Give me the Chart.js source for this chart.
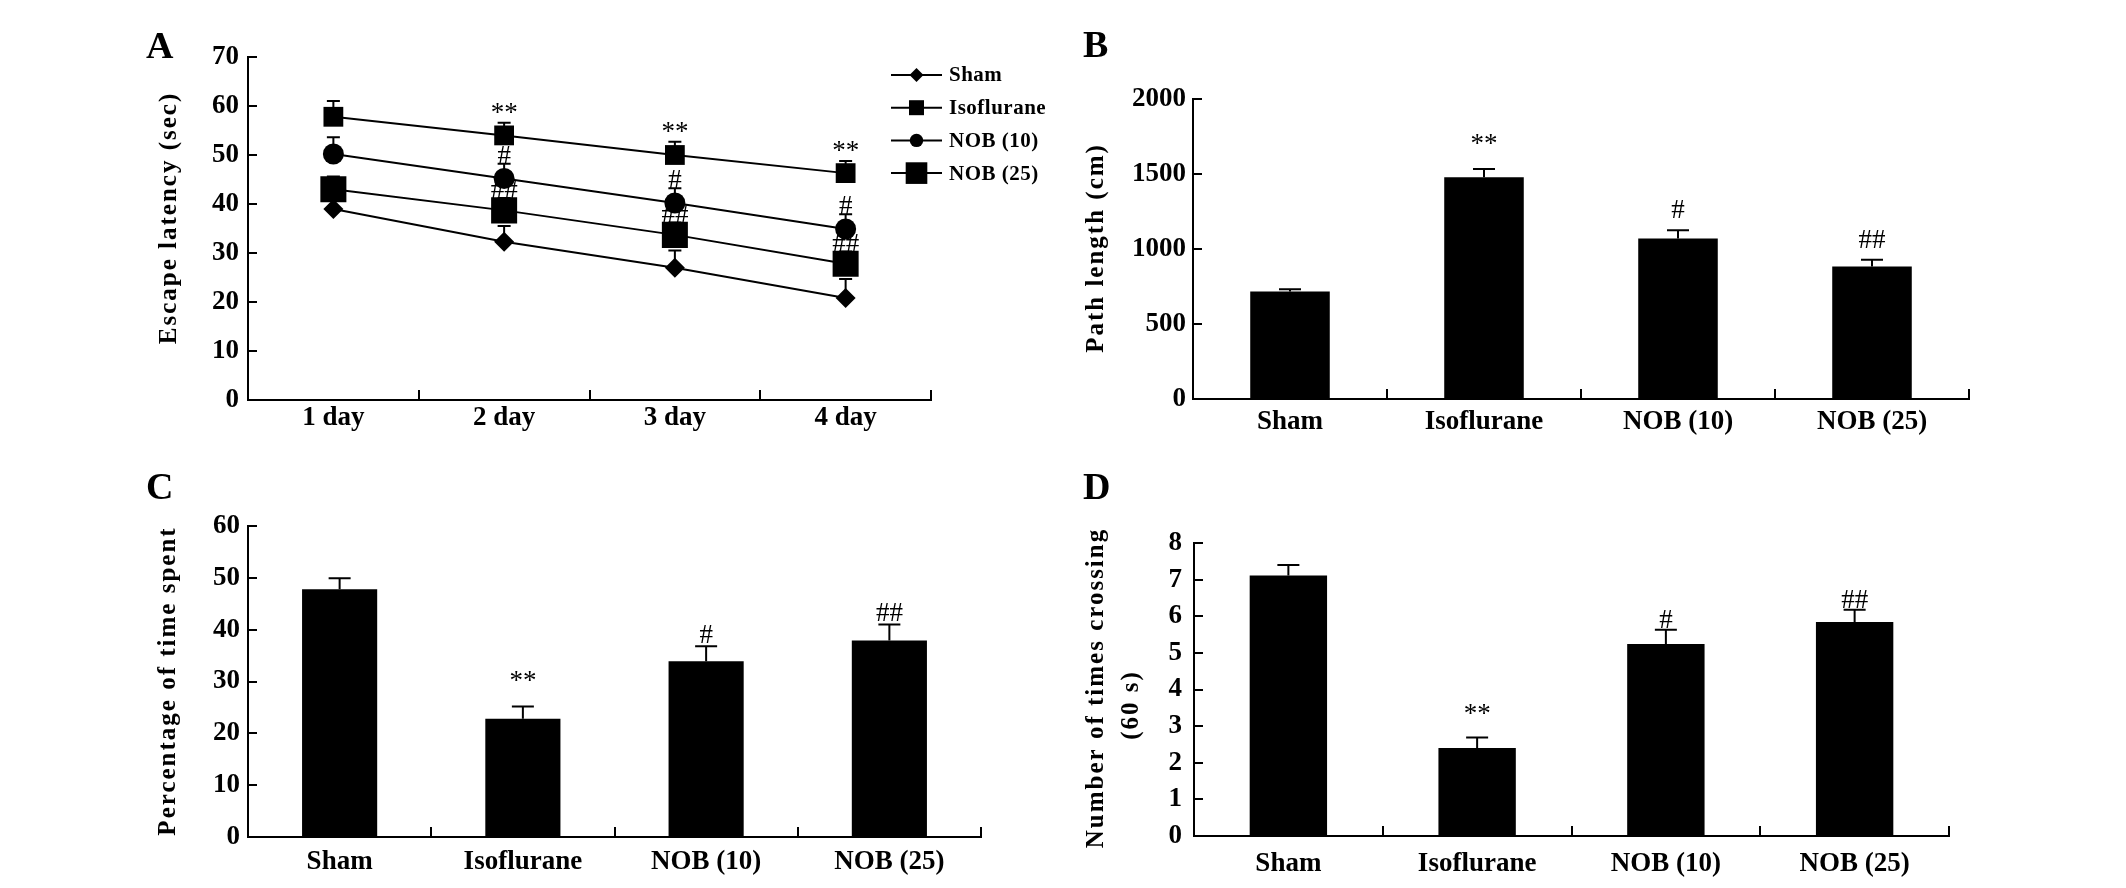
<!DOCTYPE html>
<html>
<head>
  <title>Escape latency, path length, time in quadrant and platform crossings</title>
  <style>
    body { margin: 0; background: #fff; }
    #wrap { position: relative; width: 2126px; height: 888px; }
    #wrap canvas { position: absolute; }
  </style>
</head>
<body>
  <div id="wrap">
    <canvas id="chartA" width="1063" height="444" style="left:0;top:0"></canvas>
    <canvas id="chartB" width="1063" height="444" style="left:1063px;top:0"></canvas>
    <canvas id="chartC" width="1063" height="444" style="left:0;top:444px"></canvas>
    <canvas id="chartD" width="1063" height="444" style="left:1063px;top:444px"></canvas>
  </div>

  <script src="https://cdn.jsdelivr.net/npm/chart.js"></script>
  <script>
    // categories
    const days = ['1 day', '2 day', '3 day', '4 day'];
    const groups = ['Sham', 'Isoflurane', 'NOB (10)', 'NOB (25)'];

    // A - escape latency (sec), mean and upper error
    const shamLatency = [39.0, 32.3, 27.0, 20.8];
    const shamLatencyErr = [3.0, 3.2, 3.5, 3.9];
    const isoLatency = [57.8, 54.0, 50.0, 46.3];
    const isoLatencyErr = [3.2, 2.6, 2.7, 2.5];
    const nob10Latency = [50.2, 45.2, 40.2, 34.9];
    const nob10LatencyErr = [3.4, 3.0, 3.0, 3.0];
    const nob25Latency = [43.0, 38.7, 33.7, 27.8];
    const nob25LatencyErr = [2.6, 2.5, 2.5, 2.5];
    const isoLatencySig = ['', '**', '**', '**'];
    const nob10LatencySig = ['', '#', '#', '#'];
    const nob25LatencySig = ['', '##', '##', '##'];

    // B - path length (cm)
    const pathLength = [717, 1478, 1070, 883];
    const pathLengthErr = [15, 56, 55, 45];
    const pathLengthSig = ['', '**', '#', '##'];

    // C - percentage of time spent
    const timeSpent = [47.8, 22.8, 33.9, 37.9];
    const timeSpentErr = [2.1, 2.4, 2.9, 3.1];
    const timeSpentSig = ['', '**', '#', '##'];

    // D - number of crossings (60 s)
    const crossings = [7.11, 2.40, 5.24, 5.84];
    const crossingsErr = [0.29, 0.29, 0.39, 0.34];
    const crossingsSig = ['', '**', '#', '##'];

    // y axis ranges [max, step]
    const latencyAxis = [70, 10];
    const pathAxis = [2000, 500];
    const timeAxis = [60, 10];
    const crossAxis = [8, 1];

    const serif = '"Liberation Serif", "Times New Roman", serif';
    const tickFont = { family: serif, size: 27, weight: 'bold' };

    function drawMarker(ctx, style, r, x, y) {
      ctx.beginPath();
      if (style === 'circle') {
        ctx.arc(x, y, r, 0, Math.PI * 2);
      } else if (style === 'rect') {
        const s = r * Math.SQRT1_2;
        ctx.rect(x - s, y - s, 2 * s, 2 * s);
      } else {
        ctx.moveTo(x - r, y); ctx.lineTo(x, y - r);
        ctx.lineTo(x + r, y); ctx.lineTo(x, y + r);
        ctx.closePath();
      }
      ctx.fill();
    }

    // error bars (upper only) and significance marks
    const errorBars = {
      id: 'errorBars',
      beforeDatasetsDraw(chart, args, opts) {
        const ctx = chart.ctx, y = chart.scales.y;
        chart.data.datasets.forEach((ds, di) => {
          if (!ds.errors) return;
          chart.getDatasetMeta(di).data.forEach((el, i) => {
            const top = y.getPixelForValue(ds.data[i] + ds.errors[i]);
            ctx.save();
            ctx.strokeStyle = '#000';
            ctx.lineWidth = 2;
            ctx.beginPath();
            ctx.moveTo(el.x, el.y);
            ctx.lineTo(el.x, top);
            ctx.moveTo(el.x - opts.cap / 2, top);
            ctx.lineTo(el.x + opts.cap / 2, top);
            ctx.stroke();
            ctx.restore();
          });
        });
      },
      afterDatasetsDraw(chart, args, opts) {
        const ctx = chart.ctx, y = chart.scales.y;
        chart.data.datasets.forEach((ds, di) => {
          if (!ds.sig) return;
          chart.getDatasetMeta(di).data.forEach((el, i) => {
            const s = ds.sig[i];
            if (!s) return;
            const top = y.getPixelForValue(ds.data[i] + ds.errors[i]);
            const gap = s.indexOf('*') >= 0 ? opts.starGap : opts.hashGap;
            ctx.save();
            ctx.fillStyle = '#000';
            ctx.font = '27px ' + serif;
            ctx.textAlign = 'center';
            ctx.textBaseline = 'alphabetic';
            ctx.fillText(s, el.x, top - gap);
            ctx.restore();
          });
        });
      }
    };

    // panel letter, rotated axis titles and the line legend
    const deco = {
      id: 'deco',
      afterDraw(chart, args, opts) {
        const ctx = chart.ctx;
        ctx.save();
        ctx.fillStyle = '#000';
        ctx.font = 'bold 38px ' + serif;
        ctx.textAlign = 'left';
        ctx.textBaseline = 'alphabetic';
        ctx.fillText(opts.letter.text, opts.letter.x, opts.letter.y);

        ctx.font = 'bold 25px ' + serif;
        if ('letterSpacing' in ctx) ctx.letterSpacing = '2px';
        ctx.textAlign = 'center';
        ctx.textBaseline = 'middle';
        opts.titles.forEach(t => {
          ctx.save();
          ctx.translate(t.x, t.y);
          ctx.rotate(-Math.PI / 2);
          ctx.fillText(t.text, 0, 0);
          ctx.restore();
        });
        if ('letterSpacing' in ctx) ctx.letterSpacing = '0px';

        if (opts.legend) {
          const lg = opts.legend;
          ctx.font = 'bold 21px ' + serif;
          if ('letterSpacing' in ctx) ctx.letterSpacing = '0.5px';
          ctx.textAlign = 'left';
          chart.data.datasets.forEach((ds, i) => {
            const yy = lg.y0 + i * lg.dy;
            ctx.strokeStyle = '#000';
            ctx.lineWidth = 2;
            ctx.beginPath();
            ctx.moveTo(lg.x1, yy);
            ctx.lineTo(lg.x2, yy);
            ctx.stroke();
            drawMarker(ctx, ds.pointStyle, lg.sizes[i], (lg.x1 + lg.x2) / 2, yy);
            ctx.fillText(ds.label, lg.textX, yy + 1);
          });
        }
        ctx.restore();
      }
    };

    function scales(axis, box) {
      return {
        x: {
          type: 'category',
          offset: true,
          grid: { display: true, offset: true, drawOnChartArea: false, drawTicks: true,
                  tickLength: -10, lineWidth: 2, color: '#000' },
          border: { display: true, color: '#000', width: 2 },
          ticks: { color: '#000', font: tickFont, padding: box.xPad, maxRotation: 0, autoSkip: false },
          afterFit: s => { s.height = box.xHeight; }
        },
        y: {
          min: 0,
          max: axis[0],
          grid: { display: true, drawOnChartArea: false, drawTicks: true,
                  tickLength: -9, lineWidth: 2, color: '#000' },
          border: { display: true, color: '#000', width: 2 },
          ticks: { stepSize: axis[1], color: '#000', font: tickFont, padding: box.yPad,
                   callback: v => String(v) },
          afterFit: s => { s.width = box.left; }
        }
      };
    }

    function commonOptions(axis, box, extra) {
      return {
        responsive: false,
        animation: false,
        devicePixelRatio: 1,
        layout: { padding: { left: 0, top: box.top, right: box.right, bottom: 0 } },
        scales: scales(axis, box),
        plugins: Object.assign({ legend: { display: false }, tooltip: { enabled: false } }, extra)
      };
    }

    function lineSet(label, data, errors, style, radius, sig) {
      return {
        label: label, data: data, errors: errors, sig: sig,
        borderColor: '#000', borderWidth: 2, tension: 0,
        pointStyle: style, pointRadius: radius, pointBorderWidth: 0,
        pointBackgroundColor: '#000', pointBorderColor: '#000'
      };
    }

    function barSet(data, errors, sig) {
      return {
        data: data, errors: errors, sig: sig,
        backgroundColor: '#000', borderWidth: 0,
        barPercentage: 0.41, categoryPercentage: 1
      };
    }

    // A
    new Chart(document.getElementById('chartA'), {
      type: 'line',
      data: {
        labels: days,
        datasets: [
          lineSet('Sham', shamLatency, shamLatencyErr, 'rectRot', 10, null),
          lineSet('Isoflurane', isoLatency, isoLatencyErr, 'rect', 14, isoLatencySig),
          lineSet('NOB (10)', nob10Latency, nob10LatencyErr, 'circle', 10.5, nob10LatencySig),
          lineSet('NOB (25)', nob25Latency, nob25LatencyErr, 'rect', 18.4, nob25LatencySig)
        ]
      },
      options: commonOptions(latencyAxis,
        { left: 248, right: 132, top: 57, xHeight: 44, xPad: 12, yPad: 18 },
        {
          errorBars: { cap: 13, starGap: 2, hashGap: 0 },
          deco: {
            letter: { text: 'A', x: 146, y: 58 },
            titles: [{ text: 'Escape latency (sec)', x: 170, y: 218 }],
            legend: { x1: 891, x2: 942, textX: 949, y0: 75, dy: 32.7, sizes: [7, 10.6, 6.7, 15.3] }
          }
        }),
      plugins: [errorBars, deco]
    });

    // B
    new Chart(document.getElementById('chartB'), {
      type: 'bar',
      data: { labels: groups, datasets: [barSet(pathLength, pathLengthErr, pathLengthSig)] },
      options: commonOptions(pathAxis,
        { left: 130, right: 157, top: 99, xHeight: 45, xPad: 17, yPad: 16 },
        {
          errorBars: { cap: 22, starGap: 17, hashGap: 12 },
          deco: {
            letter: { text: 'B', x: 20, y: 57 },
            titles: [{ text: 'Path length (cm)', x: 34, y: 248 }]
          }
        }),
      plugins: [errorBars, deco]
    });

    // C
    new Chart(document.getElementById('chartC'), {
      type: 'bar',
      data: { labels: groups, datasets: [barSet(timeSpent, timeSpentErr, timeSpentSig)] },
      options: commonOptions(timeAxis,
        { left: 248, right: 82, top: 82, xHeight: 51, xPad: 19, yPad: 17 },
        {
          errorBars: { cap: 22, starGap: 17, hashGap: 3 },
          deco: {
            letter: { text: 'C', x: 146, y: 55 },
            titles: [{ text: 'Percentage of time spent', x: 169, y: 237 }]
          }
        }),
      plugins: [errorBars, deco]
    });

    // D
    new Chart(document.getElementById('chartD'), {
      type: 'bar',
      data: { labels: groups, datasets: [barSet(crossings, crossingsErr, crossingsSig)] },
      options: commonOptions(crossAxis,
        { left: 131, right: 177, top: 99, xHeight: 52, xPad: 22, yPad: 21 },
        {
          errorBars: { cap: 22, starGap: 15, hashGap: 2 },
          deco: {
            letter: { text: 'D', x: 20, y: 55 },
            titles: [
              { text: 'Number of times crossing', x: 34, y: 244 },
              { text: '(60 s)', x: 69, y: 261 }
            ]
          }
        }),
      plugins: [errorBars, deco]
    });
  </script>
</body>
</html>
